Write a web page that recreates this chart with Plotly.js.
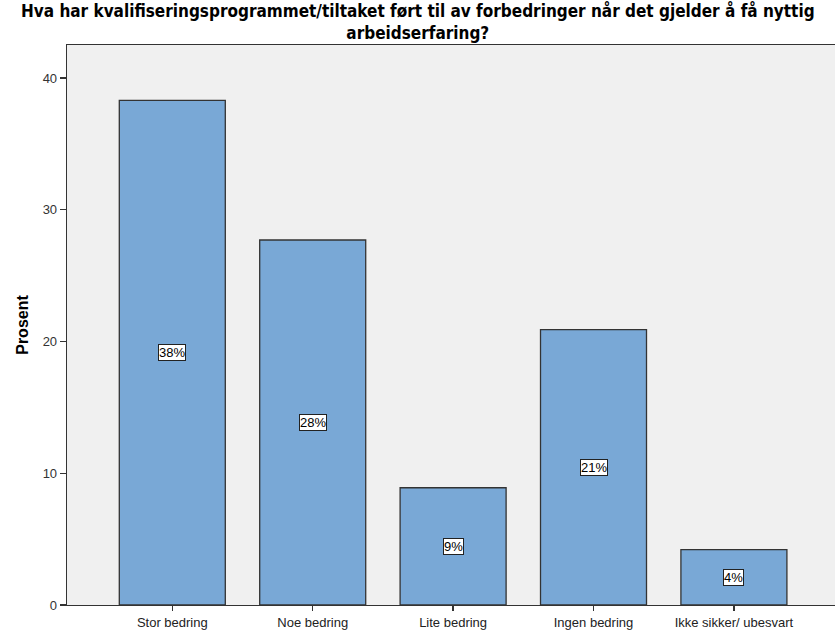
<!DOCTYPE html>
<html>
<head>
<meta charset="utf-8">
<script src="https://cdn.plot.ly/plotly-3.0.1.min.js"></script>
<style>html,body{margin:0;padding:0;background:#fff;}#chart{width:835px;height:636px;}</style>
</head>
<body>
<div id="chart"></div>
<script>
const categories = ["Stor bedring", "Noe bedring", "Lite bedring", "Ingen bedring", "Ikke sikker/ ubesvart"];
const values = [38.3, 27.7, 8.9, 20.9, 4.2];
const valueLabels = ["38%", "28%", "9%", "21%", "4%"];
const yTicks = [0, 10, 20, 30, 40];
const titleLines = ["Hva har kvalifiseringsprogrammet/tiltaket ført til av forbedringer når det gjelder å få nyttig", "arbeidserfaring?"];

const W = 835, H = 636, ML = 67, MR = 0, MT = 45, MB = 31;
const plotW = W - ML - MR, plotH = H - MT - MB;

const trace = {
  type: "bar",
  x: categories,
  y: values,
  width: 0.755,
  marker: {color: "#79a8d6", line: {color: "#333333", width: 1.3}},
  hoverinfo: "none"
};

const annotations = categories.map((c, i) => ({
  x: c, y: values[i] / 2, xref: "x", yref: "y",
  text: valueLabels[i], showarrow: false,
  font: {family: "Liberation Sans, Arial, sans-serif", size: 13, color: "#000"},
  bgcolor: "#ffffff", bordercolor: "#222222", borderwidth: 1, borderpad: 0
}));

annotations.push({
  text: "<b>" + titleLines.join("<br>") + "</b>", showarrow: false,
  xref: "paper", yref: "paper",
  x: (W / 2 - ML) / plotW, xanchor: "center",
  y: 1 + (MT - 22) / plotH, yanchor: "middle",
  align: "center",
  font: {family: "DejaVu Sans Condensed, sans-serif", size: 17, color: "#000"}
});

const layout = {
  width: W, height: H,
  margin: {l: ML, r: MR, t: MT, b: MB},
  paper_bgcolor: "#ffffff",
  plot_bgcolor: "#f0f0f0",
  showlegend: false,
  bargap: 0,
  xaxis: {
    type: "category",
    range: [-0.75, 4.72],
    showline: true, linecolor: "#333", linewidth: 1.3, mirror: true,
    ticks: "outside", ticklen: 5, tickcolor: "#333", tickwidth: 1.3,
    tickfont: {family: "Liberation Sans, Arial, sans-serif", size: 13, color: "#222"},
    showgrid: false, zeroline: false, fixedrange: true
  },
  yaxis: {
    range: [0, 42.5],
    tickvals: yTicks, ticktext: yTicks.map(String),
    showline: true, linecolor: "#333", linewidth: 1.3, mirror: true,
    ticks: "outside", ticklen: 6, tickcolor: "#333", tickwidth: 1.3,
    tickfont: {family: "Liberation Sans, Arial, sans-serif", size: 13, color: "#333"},
    showgrid: false, zeroline: false,
    title: {text: "Prosent", font: {family: "Liberation Sans, Arial, sans-serif", size: 16, color: "#000", weight: "bold"}, standoff: 10},
    fixedrange: true
  },
  annotations: annotations
};

Plotly.newPlot("chart", [trace], layout, {displayModeBar: false, staticPlot: true});
</script>
</body>
</html>
